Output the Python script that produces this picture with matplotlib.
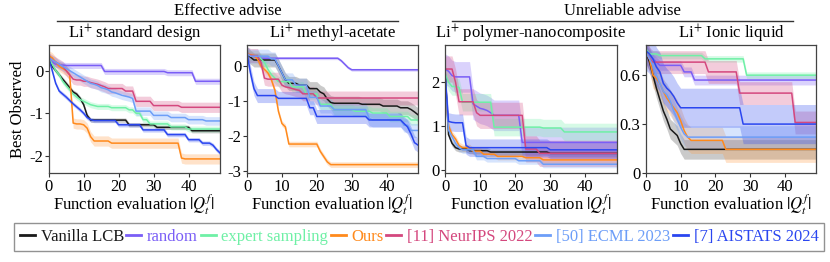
import numpy as np
import matplotlib
matplotlib.use('Agg')
import matplotlib.pyplot as plt
from matplotlib.lines import Line2D

plt.rcParams['font.family'] = ['Liberation Serif', 'DejaVu Serif']
plt.rcParams['mathtext.fontset'] = 'stix'
plt.rcParams['axes.unicode_minus'] = False

methods = ['Vanilla LCB', 'random', 'expert sampling', 'Ours',
           '[11] NeurIPS 2022', '[50] ECML 2023', '[7] AISTATS 2024']
colors = ['#1a1a1a', '#7a5ef6', '#6ff0a6', '#ff8a1c', '#d4487e', '#6d9ef8', '#2a46f0']
band_colors = ['#444444', '#7a5ef6', '#6ff0a6', '#ff9a40', '#d4487e', '#6d9ef8', '#2a46f0']

evals = np.arange(50)

# panel 1: Li+ standard design
p1_lcb = [0.3, 0.1, 0.0, -0.1, -0.2, -0.3, -0.4, -0.5, -0.55, -0.65, -0.8, -1.05] + [-1.16]*11 + [-1.27]*8 + [-1.33]*10 + [-1.41]*9
p1_random = [0.35, 0.2, 0.15, 0.13, 0.13] + [0.12]*11 + [-0.02]*18 + [-0.05]*8 + [-0.25]*8
p1_expert = [0.3, 0.15, 0.0, -0.1, -0.25, -0.35, -0.45, -0.55, -0.62, -0.68, -0.72, -0.76, -0.8, -0.82] + [-0.84]*4 + [-0.87]*5 + [-0.92]*2 + [-1.0]*2 + [-1.15]*2 + [-1.25]*6 + [-1.32]*5 + [-1.37]*10
p1_ours = [0.35, 0.3, 0.2, 0.1, 0.05, 0.0, -0.1] + [-1.23, -1.25, -1.25, -1.27, -1.35, -1.55] + [-1.65]*5 + [-1.7]*20 + [-2.05] + [-2.07]*11
p1_neurips = [0.3, 0.25, 0.2, 0.15, 0.1, 0.0, -0.1, -0.2, -0.22, -0.22, -0.25, -0.25, -0.28, -0.3, -0.32, -0.35, -0.38] + [-0.42]*5 + [-0.48]*3 + [-0.72]*5 + [-0.82]*8 + [-0.86]*12
p1_ecml = [0.3, 0.25, 0.2, 0.15, 0.1, 0.05, 0.0, -0.05, -0.1, -0.15, -0.2, -0.25, -0.3, -0.32, -0.35, -0.4, -0.42, -0.45, -0.5, -0.52, -0.55, -0.58, -0.6, -0.62, -0.65] + [-0.95]*5 + [-1.05]*5 + [-1.1]*5 + [-1.15]*5 + [-1.18]*5
p1_aistats = [0.3, 0.0, -0.3, -0.48, -0.55, -0.62, -0.7, -0.78, -0.85, -0.92, -1.0, -1.1, -1.15] + [-1.17]*7 + [-1.27]*7 + [-1.39]*7 + [-1.5]*6 + [-1.62]*4 + [-1.7]*3 + [-1.75, -1.85, -1.93]
p1_band = [0.05, 0.07, 0.07, 0.12, 0.12, 0.1, 0.05]

# panel 2: Li+ methyl-acetate
p2_lcb = [0.35, 0.25] + [0.17]*7 + [0.0, -0.2, -0.4] + [-0.5]*3 + [-0.55]*3 + [-0.65]*3 + [-0.75, -0.8, -0.95, -1.05] + [-1.07]*8 + [-1.1]*6 + [-1.15]*5 + [-1.2]*3 + [-1.25, -1.32, -1.4]
p2_random = [0.35, 0.3, 0.27, 0.25] + [0.22]*23 + [0.15, 0.05, -0.05] + [-0.11]*20
p2_expert = [0.35, 0.3, 0.3, 0.3, 0.2, 0.1, -0.1, -0.25, -0.35] + [-0.45]*4 + [-0.6]*4 + [-0.8]*4 + [-1.1]*4 + [-1.25]*6 + [-1.3]*5 + [-1.35]*5 + [-1.45]*6 + [-1.55]*3
p2_ours = [0.35, 0.32, 0.3, 0.2, 0.0, -0.1, -0.2, -0.4, -0.7, -1.3, -1.65, -1.75] + [-2.24]*9 + [-2.45, -2.6, -2.75] + [-2.83]*26
p2_neurips = [0.35, 0.3, 0.3, 0.3, 0.1, -0.35] + [-0.38]*4 + [-0.55, -0.6, -0.62, -0.65, -0.68, -0.7] + [-0.8]*4 + [-0.92]*30
p2_ecml = [0.35] + [0.28]*6 + [0.2, 0.2] + [0.0, -0.2] + [-0.4]*3 + [-0.55]*4 + [-0.9]*3 + [-1.15]*4 + [-1.25]*10 + [-1.5] + [-1.55]*9 + [-1.7]*2 + [-1.85]*3
p2_aistats = [0.35, -0.2, -0.65] + [-0.85]*6 + [-0.93]*9 + [-1.2]*2 + [-1.45]*15 + [-1.55]*10 + [-1.65, -1.75] + [-1.95, -2.2, -2.27]
p2_band = [0.2, 0.04, 0.15, 0.08, 0.2, 0.2, 0.2]

# panel 3: Li+ polymer-nanocomposite
p3_lcb = [2.3, 0.8, 0.6, 0.5, 0.47, 0.47, 0.47] + [0.43]*6 + [0.4]*17 + [0.37]*20
p3_random = [2.3, 2.25, 2.15] + [2.12]*5 + [1.5, 1.45, 1.4, 1.38, 1.35, 1.3] + [1.24]*8 + [0.62]*28
p3_expert = [2.2, 2.0, 1.9, 1.9, 1.88] + [1.54]*9 + [0.97]*14 + [0.95]*6 + [0.86]*16
p3_ours = [2.0, 1.0, 0.8, 0.7, 0.55] + [0.5]*3 + [0.42]*3 + [0.35]*4 + [0.3]*8 + [0.27]*5 + [0.22]*22
p3_neurips = [2.3, 2.3, 2.3, 2.0] + [1.55]*5 + [1.3] + [1.24]*13 + [0.47]*4 + [0.37]*23
p3_ecml = [2.2, 0.9, 0.75, 0.6, 0.5] + [0.45]*4 + [0.3]*3 + [0.25]*9 + [0.2]*7 + [0.12]*22
p3_aistats = [2.2, 1.1, 1.08, 1.07, 1.07, 1.07] + [0.55] + [0.5]*23 + [0.45]*20
p3_band = [0.07, 0.35, 0.2, 0.08, 0.3, 0.08, 0.2]

# panel 4: Li+ Ionic liquid
p4_lcb = [0.74, 0.68, 0.6, 0.52, 0.45, 0.38, 0.33, 0.27, 0.25, 0.23, 0.18] + [0.145]*39
p4_random = [0.75, 0.73, 0.7, 0.68] + [0.66]*7 + [0.62]*3 + [0.57]*36
p4_expert = [0.76] + [0.73]*3 + [0.72]*13 + [0.7]*12 + [0.6]*21
p4_ours = [0.74, 0.7, 0.6, 0.58, 0.55, 0.5, 0.46, 0.43, 0.4, 0.37, 0.32, 0.26, 0.22] + [0.2]*10 + [0.145]*27
p4_neurips = [0.74, 0.7] + [0.68]*16 + [0.62]*9 + [0.49]*16 + [0.31]*7
p4_ecml = [0.74, 0.7, 0.66, 0.6, 0.55, 0.5, 0.48, 0.44, 0.38, 0.33, 0.28, 0.24] + [0.22]*38
p4_aistats = [0.75, 0.73, 0.7, 0.65, 0.62, 0.55, 0.52, 0.5, 0.47, 0.43] + [0.4]*18 + [0.3]*22
p4_band = [0.06, 0.03, 0.02, 0.08, 0.07, 0.07, 0.12]

panels = [
    ('Li$^{+}$ standard design',
     [p1_lcb, p1_random, p1_expert, p1_ours, p1_neurips, p1_ecml, p1_aistats], p1_band,
     (-2.4, 0.6), [0, -1, -2], ['0', '-1', '-2']),
    ('Li$^{+}$ methyl-acetate',
     [p2_lcb, p2_random, p2_expert, p2_ours, p2_neurips, p2_ecml, p2_aistats], p2_band,
     (-3.07, 0.6), [0, -1, -2, -3], ['0', '-1', '-2', '-3']),
    ('Li$^{+}$ polymer-nanocomposite',
     [p3_lcb, p3_random, p3_expert, p3_ours, p3_neurips, p3_ecml, p3_aistats], p3_band,
     (-0.08, 2.85), [0, 1, 2], ['0', '1', '2']),
    ('Li$^{+}$ Ionic liquid',
     [p4_lcb, p4_random, p4_expert, p4_ours, p4_neurips, p4_ecml, p4_aistats], p4_band,
     (0.0, 0.785), [0, 0.3, 0.6], ['0', '0.3', '0.6']),
]

W, H = 830, 262
fig = plt.figure(figsize=(W / 100, H / 100), dpi=100)
lefts = [48.7, 247, 445, 646]
rights = [220, 418, 617, 816]
top, bottom = 45, 173
fs = 12

for i, (title, series, band, ylim, yt, ytl) in enumerate(panels):
    ax = fig.add_axes([lefts[i] / W, 1 - bottom / H, (rights[i] - lefts[i]) / W, (bottom - top) / H])
    for s, c, bc, b in zip(series, colors, band_colors, band):
        s = np.asarray(s)
        assert len(s) == 50
        ax.fill_between(evals, s - b, s + b, color=bc, alpha=0.28, lw=0)
        ax.plot(evals, s, color=c, lw=1.1)
    ax.set_xlim(0, 49)
    ax.set_ylim(*ylim)
    ax.set_xticks([0, 10, 20, 30, 40])
    ax.set_yticks(yt)
    ax.set_yticklabels(ytl)
    ax.tick_params(labelsize=fs, length=3, width=0.8, pad=1, colors='#333333', labelcolor='black')
    for sp in ax.spines.values():
        sp.set_color('#444444')
        sp.set_linewidth(0.9)
    ax.set_title(title, fontsize=fs, pad=5)
    ax.set_xlabel('Function evaluation $|Q_t^f|$', fontsize=fs, labelpad=-1)
    if i == 0:
        ax.set_ylabel('Best Observed', fontsize=fs, labelpad=2)

# group headers
for text, x0, x1 in [('Effective advise', 57, 398), ('Unreliable advise', 452, 793)]:
    fig.text((x0 + x1) / 2 / W, 1 - 11 / H, text, ha='center', va='center', fontsize=fs)
    fig.add_artist(Line2D([x0 / W, x1 / W], [1 - 21 / H, 1 - 21 / H], color='#333333', lw=1.0))

handles = [Line2D([], [], color=c, lw=2) for c in colors]
leg = fig.legend(handles, methods, loc='upper center', bbox_to_anchor=(0.505, 1 - 223 / H),
                 ncol=7, fontsize=fs, handlelength=0.9, handletextpad=0.35, columnspacing=0.15,
                 frameon=True, fancybox=False, edgecolor='#777777', borderpad=0.35,
                 borderaxespad=0)
leg.get_frame().set_linewidth(1.0)
for t, c in zip(leg.get_texts(), colors):
    t.set_color(c)

fig.savefig('out.png', dpi=100)
